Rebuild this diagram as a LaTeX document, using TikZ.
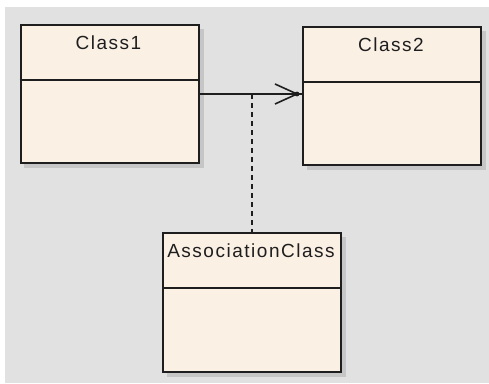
\documentclass[tikz,border=0pt]{standalone}
\usepackage{fontspec}
\setmainfont{Liberation Sans}
\newfontfamily\umlfont[LetterSpace=8]{Liberation Sans}
\begin{document}
\begin{tikzpicture}[x=1pt,y=-1pt,
  classbox/.style={draw=linec, line width=2pt, fill=boxfill, rectangle, anchor=north west, inner sep=0pt},
  divider/.style={draw=linec, line width=2pt},
  shadowbox/.style={fill=shadowc, draw=none},
  lbl/.style={font=\umlfont\fontsize{19}{21}\selectfont, text=linec, inner sep=0pt}]
\definecolor{bgc}{HTML}{E1E1E1}
\definecolor{boxfill}{HTML}{FBF0E4}
\definecolor{shadowc}{HTML}{C6C6C6}
\definecolor{linec}{HTML}{1E1E1E}
\useasboundingbox (0,0) rectangle (489,383);
\fill[white] (0,0) rectangle (489,383);
\fill[bgc] (5,7) rectangle (489,383);
% shadows
\fill[shadowbox] (24,29) rectangle (204,168);
\fill[shadowbox] (307,31) rectangle (486,170);
\fill[shadowbox] (167,237) rectangle (346,377);
% classes
\node[classbox, minimum width=178.5pt, minimum height=138pt] (c1) at (19.5,24) {};
\node[classbox, minimum width=178pt, minimum height=138pt] (c2) at (302,26) {};
\node[classbox, minimum width=178pt, minimum height=139pt] (ac) at (162,232) {};
\draw[divider] (19.5,80) -- (198,80);
\draw[divider] (302,82) -- (480,82);
\draw[divider] (162,288) -- (340,288);
\node[lbl] (t1) at (108.5,43) {Class1};
\node[lbl] (t2) at (391,45) {Class2};
\node[lbl] (t3) at (251,251) {AssociationClass};
% association
\coordinate (tip) at (297,94);
\coordinate (mid) at (251.7,94);
\draw[line width=2pt, draw=linec] (c1.east |- tip) -- (c2.west |- tip);
\draw[line width=1.6pt, draw=linec] (275,84) -- (tip) -- (275,104);
\fill[linec] (tip) circle (2.4);
\draw[line width=2pt, draw=linec, dash pattern=on 5pt off 4pt] (mid) -- (ac.north -| mid);
\end{tikzpicture}
\end{document}
